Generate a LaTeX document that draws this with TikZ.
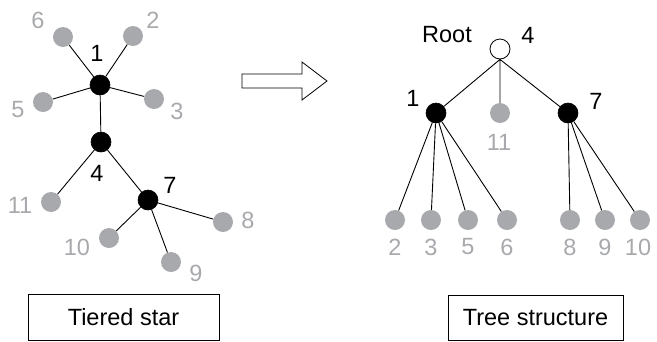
\documentclass[tikz,border=0pt]{standalone}
\usepackage{fontspec}
\setmainfont{Liberation Sans}
\definecolor{leafgray}{RGB}{167,169,172}
\begin{document}
\begin{tikzpicture}[x=1pt,y=-1pt,
  hub/.style={circle,fill=black,draw=black,line width=0.6pt,minimum size=20pt,inner sep=0pt},
  leaf/.style={circle,fill=leafgray,minimum size=20pt,inner sep=0pt},
  rootnode/.style={circle,fill=white,draw=black,line width=0.8pt,minimum size=20pt,inner sep=0pt},
  lbl/.style={inner sep=0pt,font=\fontsize{23.5}{28}\selectfont},
  glbl/.style={lbl,text=leafgray},
  edge/.style={draw=black,line width=0.9pt},
  capbox/.style={draw=black,line width=0.8pt,inner sep=0pt},
  captext/.style={inner sep=0pt,font=\fontsize{23.5}{28}\selectfont}]
\useasboundingbox (0,0) rectangle (657,341);

% ---------- left: tiered star ----------
\node[hub]  (l1)  at (100,85) {};
\node[hub]  (l4)  at (101,142) {};
\node[hub]  (l7)  at (148,200) {};
\node[leaf] (l6)  at (63,37) {};
\node[leaf] (l2)  at (133,36) {};
\node[leaf] (l5)  at (43,102) {};
\node[leaf] (l3)  at (154,99) {};
\node[leaf] (l11) at (51,202) {};
\node[leaf] (l8)  at (223,222) {};
\node[leaf] (l10) at (109,238) {};
\node[leaf] (l9)  at (171,262) {};

\begin{scope}[on background layer/.style={}]
\path[edge] (l1) -- (l6) (l1) -- (l2) (l1) -- (l5) (l1) -- (l3) (l1) -- (l4)
            (l4) -- (l11) (l4) -- (l7) (l7) -- (l8) (l7) -- (l10) (l7) -- (l9);
\end{scope}

\node[lbl]  (tl1)  at (97,53) {1};
\node[lbl]  (tl4)  at (97,173) {4};
\node[lbl]  (tl7)  at (170,185) {7};
\node[glbl] (tl6)  at (38,20) {6};
\node[glbl] (tl2)  at (153,20) {2};
\node[glbl] (tl5)  at (18,110) {5};
\node[glbl] (tl3)  at (177,111) {3};
\node[glbl] (tl11) at (20,205) {11};
\node[glbl] (tl8)  at (248,220) {8};
\node[glbl] (tl10) at (77,247) {10};
\node[glbl] (tl9)  at (196,273) {9};

\node[capbox,minimum width=191pt,minimum height=46pt] (capL) at (123.5,317.5) {};
\node[captext] (capLt) at (capL.center) {Tiered star};

% ---------- arrow ----------
\draw[line width=0.8pt,fill=white] (242,74) -- (302,74) -- (302,62) -- (327,81)
  -- (302,100) -- (302,88) -- (242,88) -- cycle;

% ---------- right: tree structure ----------
\node[rootnode] (r4) at (500,49) {};
\node[hub]  (r1)  at (436,113) {};
\node[hub]  (r7)  at (568,113) {};
\node[leaf] (r11) at (500,113) {};
\node[leaf] (r2)  at (395,220) {};
\node[leaf] (r3)  at (431,220) {};
\node[leaf] (r5)  at (468,220) {};
\node[leaf] (r6)  at (507,220) {};
\node[leaf] (r8)  at (570,220) {};
\node[leaf] (r9)  at (605,220) {};
\node[leaf] (r10) at (640,220) {};

\path[edge] (r4.south) -- (r1) (r4.south) -- (r11) (r4.south) -- (r7)
  (r1) -- (r2) (r1) -- (r3) (r1) -- (r5) (r1) -- (r6)
  (r7) -- (r8) (r7) -- (r9) (r7) -- (r10);

\node[lbl]  (trroot) at (447,35) {Root};
\node[lbl]  (tr4)  at (528,35) {4};
\node[lbl]  (tr1)  at (413,98) {1};
\node[lbl]  (tr7)  at (596,101) {7};
\node[glbl] (tr11) at (499,142) {11};
\node[glbl] (tr2)  at (395,247) {2};
\node[glbl] (tr3)  at (431,247) {3};
\node[glbl] (tr5)  at (468,247) {5};
\node[glbl] (tr6)  at (507,247) {6};
\node[glbl] (tr8)  at (570,247) {8};
\node[glbl] (tr9)  at (605,247) {9};
\node[glbl] (tr10) at (638,247) {10};

\node[capbox,minimum width=175pt,minimum height=45pt] (capR) at (535.5,317.5) {};
\node[captext] (capRt) at (capR.center) {Tree structure};
\end{tikzpicture}
\end{document}
